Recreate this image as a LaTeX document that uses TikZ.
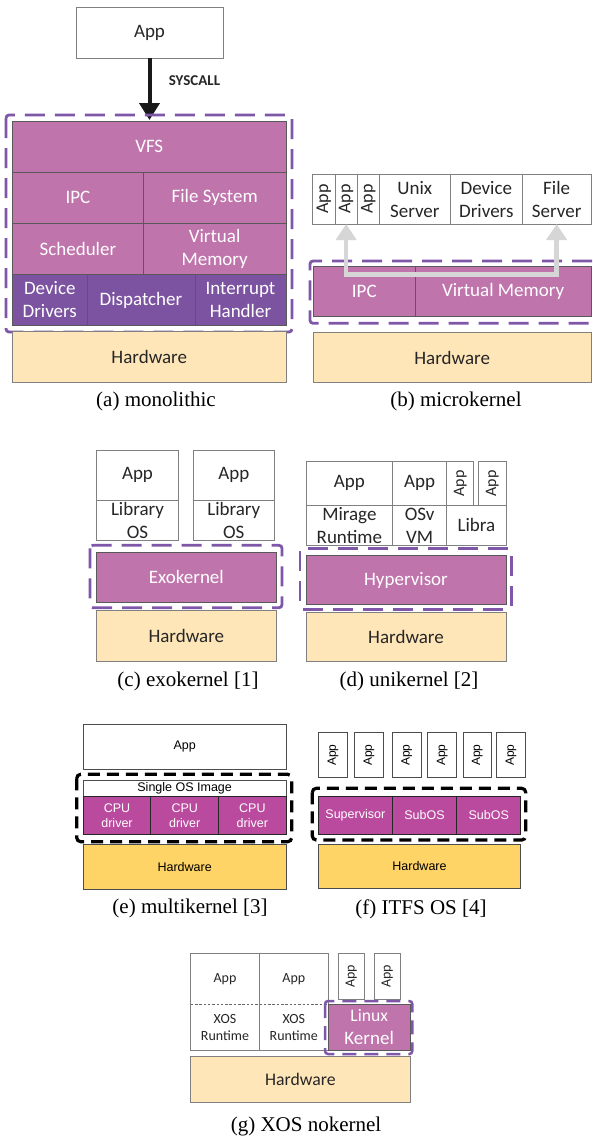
\documentclass[tikz,border=0pt]{standalone}
\usepackage{fontspec}
\setmainfont{Liberation Serif}
\newfontfamily\calib{Carlito}
\newfontfamily\helv{Liberation Sans}
\usetikzlibrary{arrows.meta}
\definecolor{kpurple}{HTML}{C074AC}
\definecolor{kdark}{HTML}{7B53A1}
\definecolor{kdash}{HTML}{7E57A8}
\definecolor{hwbeige}{HTML}{FFE6B9}
\definecolor{mag}{HTML}{BA4A9E}
\definecolor{hwyellow}{HTML}{FFD466}
\definecolor{bord}{HTML}{808080}
\definecolor{kbord}{HTML}{595959}
\definecolor{arrgray}{HTML}{D6D6D6}
\definecolor{txt}{HTML}{262626}
\newcommand\mkbox[7]{%
  \pgfmathsetmacro\mkw{(#4)-(#2)}%
  \pgfmathsetmacro\mkh{(#5)-(#3)}%
  \node[#6, minimum width=\mkw pt, minimum height=\mkh pt] (#1) at ({((#2)+(#4))/2},{((#3)+(#5))/2}) {#7};}
\tikzset{
  base/.style={inner sep=0pt, outer sep=0pt, align=center},
  fA/.style={font=\calib\fontsize{19}{23}\selectfont},
  fS/.style={font=\calib\fontsize{14}{16.7}\selectfont},
  fH/.style={font=\helv\fontsize{12.5}{15}\selectfont},
  wbox/.style={base, fA, draw=bord, line width=0.8pt, fill=white, text=txt},
  kbox/.style={base, fA, draw=kbord, line width=0.8pt, fill=kpurple, text=white},
  dbox/.style={base, fA, draw=kbord, line width=0.8pt, fill=kdark, text=white},
  hwbox/.style={base, fA, draw=bord, line width=0.8pt, fill=hwbeige, text=txt},
  wboxH/.style={base, fH, draw=black!70, line width=0.7pt, fill=white, text=black},
  mbox/.style={base, fH, draw=black!85, line width=0.7pt, fill=mag, text=white},
  ybox/.style={base, fH, draw=black!70, line width=0.7pt, fill=hwyellow, text=black},
  plainbox/.style={base, font=\calib\fontsize{14}{16.7}\selectfont, text=txt},
  pframe/.style={draw=kdash, line width=2.8pt, dash pattern=on 20pt off 10pt, rounded corners=3pt},
  pframeS/.style={draw=kdash, line width=2.5pt, dash pattern=on 14pt off 8pt, rounded corners=3pt},
  bframe/.style={draw=black, line width=3.2pt, dash pattern=on 12pt off 7pt, rounded corners=4pt},
  caption/.style={font=\fontsize{21}{24}\selectfont, inner sep=0pt},
  rot/.style={rotate=90, inner sep=0pt, text=txt}
}
\begin{document}
\begin{tikzpicture}[x=1pt,y=-1pt]
\useasboundingbox[fill=white] (0,0) rectangle (592,1138);

% ---------- (a) monolithic ----------
\mkbox{appA}{76}{7}{223}{58}{wbox}{App}
\coordinate (aTip) at (149.5,120);
\draw[line width=4pt, black!90, -{Triangle[width=20pt,length=17pt]}] (appA.south) -- (aTip);
\node[base, font=\calib\bfseries\fontsize{15}{18}\selectfont, text=txt] (sys) at (194.5,81) {SYSCALL};
\draw[pframe] (6,115) rectangle (292,332);
\mkbox{vfs}{12.5}{121}{286}{172.3}{kbox}{VFS}
\mkbox{ipc}{12.5}{172.3}{143.3}{223.3}{kbox}{IPC}
\mkbox{fs}{143.3}{172.3}{286}{223.3}{kbox}{File System}
\mkbox{sch}{12.5}{223.3}{143.3}{274.3}{kbox}{Scheduler}
\mkbox{vm}{143.3}{223.3}{286}{274.3}{kbox}{Virtual\\Memory}
\mkbox{dd}{12.5}{274.3}{87}{325.7}{dbox}{Device\\Drivers}
\mkbox{disp}{87}{274.3}{195}{325.7}{dbox}{Dispatcher}
\mkbox{ih}{195}{274.3}{286}{325.7}{dbox}{Interrupt\\Handler}
\mkbox{hwA}{12.5}{331.7}{286}{382.3}{hwbox}{Hardware}
\node[caption] (capA) at (156,401) {(a) monolithic};

% ---------- (b) microkernel ----------
\mkbox{bapp1}{312.7}{174.3}{335}{224}{wbox}{}
\mkbox{bapp2}{335}{174.3}{357.3}{224}{wbox}{}
\mkbox{bapp3}{357.3}{174.3}{379.3}{224}{wbox}{}
\node[rot, font=\calib\fontsize{18}{20}\selectfont] (bt1) at (bapp1.center) {App};
\node[rot, font=\calib\fontsize{18}{20}\selectfont] (bt2) at (bapp2.center) {App};
\node[rot, font=\calib\fontsize{18}{20}\selectfont] (bt3) at (bapp3.center) {App};
\mkbox{unix}{379.3}{174.3}{450.3}{224}{wbox}{Unix\\Server}
\mkbox{bdd}{450.3}{174.3}{522.3}{224}{wbox}{Device\\Drivers}
\mkbox{fsrv}{522.3}{174.3}{591}{224}{wbox}{File\\Server}
\draw[pframe] (592,261) -- (310,261) -- (310,323.3) -- (592,323.3);
\mkbox{bipc}{313.3}{266.7}{415.3}{316}{kbox}{IPC}
\mkbox{bvm}{415.3}{266.7}{591}{316}{kbox}{Virtual Memory}
\mkbox{hwB}{313.3}{332.7}{591}{382.7}{hwbox}{Hardware}
\draw[arrgray, line width=4.5pt, {Triangle[width=20pt,length=16pt]}-{Triangle[width=20pt,length=16pt]}]
  (bapp2.south) -- ++(0,50.3) -| (fsrv.south);
\node[caption] (capB) at (456,401) {(b) microkernel};

% ---------- (c) exokernel ----------
\mkbox{capp1}{96.7}{450}{178.3}{500.3}{wbox}{App}
\mkbox{clib1}{96.7}{500.3}{178.3}{540.7}{wbox}{\fontsize{19}{22}\selectfont Library\\OS}
\mkbox{capp2}{193.3}{450}{274.3}{500.3}{wbox}{App}
\mkbox{clib2}{193.3}{500.3}{274.3}{540.7}{wbox}{\fontsize{19}{22}\selectfont Library\\OS}
\draw[pframe] (90,545.3) rectangle (282,607.7);
\mkbox{exo}{96.7}{552.3}{276}{602.3}{kbox}{Exokernel}
\mkbox{hwC}{96.7}{610.7}{276}{661}{hwbox}{Hardware}
\node[caption] (capC) at (188,681) {(c) exokernel [1]};

% ---------- (d) unikernel ----------
\mkbox{dapp1}{306}{461}{392.7}{505.7}{wbox}{App}
\mkbox{dapp2}{392.7}{461}{446.7}{505.7}{wbox}{App}
\mkbox{dapp3}{446.7}{461}{473.7}{505.7}{wbox}{}
\mkbox{dapp4}{478.7}{461}{506}{505.7}{wbox}{}
\node[rot, font=\calib\fontsize{16}{18}\selectfont] (dt3) at (dapp3.center) {App};
\node[rot, font=\calib\fontsize{16}{18}\selectfont] (dt4) at (dapp4.center) {App};
\mkbox{mir}{306}{505.7}{392.7}{545}{wbox}{\fontsize{19}{22.7}\selectfont Mirage\\Runtime}
\mkbox{osv}{392.7}{505.7}{446.7}{545}{wbox}{\fontsize{19}{22.7}\selectfont OSv\\VM}
\mkbox{libra}{446.7}{505.7}{506}{545}{wbox}{Libra}
\draw[pframe] (300,548.3) rectangle (511.7,609.3);
\mkbox{hyp}{306}{555.7}{506}{604.3}{kbox}{Hypervisor}
\mkbox{hwD}{306}{612.7}{506}{661}{hwbox}{Hardware}
\node[caption] (capD) at (409,681) {(d) unikernel [2]};

% ---------- (e) multikernel ----------
\mkbox{eapp}{83.3}{724.3}{286}{769}{wboxH}{App}
\draw[bframe] (76.7,774.3) rectangle (291.7,841.7);
\mkbox{sos}{83.3}{780}{286}{796.7}{wboxH}{Single OS Image}
\mkbox{cpu1}{83.3}{796.7}{150.7}{834.3}{mbox}{CPU\\driver}
\mkbox{cpu2}{150.7}{796.7}{218.7}{834.3}{mbox}{CPU\\driver}
\mkbox{cpu3}{218.7}{796.7}{286}{834.3}{mbox}{CPU\\driver}
\mkbox{hwE}{83.3}{844.3}{286}{889}{ybox}{Hardware}
\node[caption] (capE) at (190,908) {(e) multikernel [3]};

% ---------- (f) ITFS OS ----------
\foreach \i/\xa/\xb in {1/318.3/347.7, 2/354.3/383.7, 3/392.3/421.3, 4/427.7/456.7, 5/463/491.7, 6/496.7/525.3}{
  \mkbox{fapp\i}{\xa}{732.7}{\xb}{777.3}{wboxH}{}
  \node[rot, font=\helv\fontsize{12}{14}\selectfont, text=black] (ft\i) at (fapp\i.center) {App};
}
\draw[bframe] (312.3,788.3) rectangle (525.7,840);
\mkbox{sup}{318.3}{796}{392.3}{834}{mbox}{Supervisor}
\mkbox{sub1}{392.3}{796}{456.7}{834}{mbox}{SubOS}
\mkbox{sub2}{456.7}{796}{520.7}{834}{mbox}{SubOS}
\mkbox{hwF}{318.3}{844}{520.7}{888.3}{ybox}{Hardware}
\node[caption] (capF) at (421,909) {(f) ITFS OS [4]};

% ---------- (g) XOS nokernel ----------
\mkbox{gapp1}{190.7}{953.3}{259.3}{1004.3}{plainbox}{App}
\mkbox{gapp2}{259.3}{953.3}{328.3}{1004.3}{plainbox}{App}
\mkbox{grt1}{190.7}{1004.3}{259.3}{1050}{plainbox}{XOS\\Runtime}
\mkbox{grt2}{259.3}{1004.3}{328.3}{1050}{plainbox}{XOS\\Runtime}
\draw[bord, line width=0.8pt] (gapp1.north west) rectangle (grt2.south east);
\draw[bord, line width=0.8pt] (gapp1.north east) -- (grt1.south east);
\draw[black!60, line width=0.6pt, dash pattern=on 2.5pt off 1.8pt] (grt1.north west) -- (grt2.north east);
\mkbox{gapp3}{338.3}{953.3}{364}{999.3}{wbox}{}
\mkbox{gapp4}{374.3}{953.3}{400}{999.3}{wbox}{}
\node[rot, font=\calib\fontsize{14}{16}\selectfont] (gt3) at (gapp3.center) {App};
\node[rot, font=\calib\fontsize{14}{16}\selectfont] (gt4) at (gapp4.center) {App};
\draw[pframeS] (325,1001) rectangle (412.3,1054);
\mkbox{lk}{328.3}{1004.3}{410}{1050}{kbox}{\fontsize{17.6}{23}\selectfont Linux\\Kernel}
\mkbox{hwG}{190.7}{1056.7}{410}{1102.3}{hwbox}{\fontsize{17.7}{21}\selectfont Hardware}
\node[caption] (capG) at (306,1126) {(g) XOS nokernel};
\end{tikzpicture}
\end{document}
